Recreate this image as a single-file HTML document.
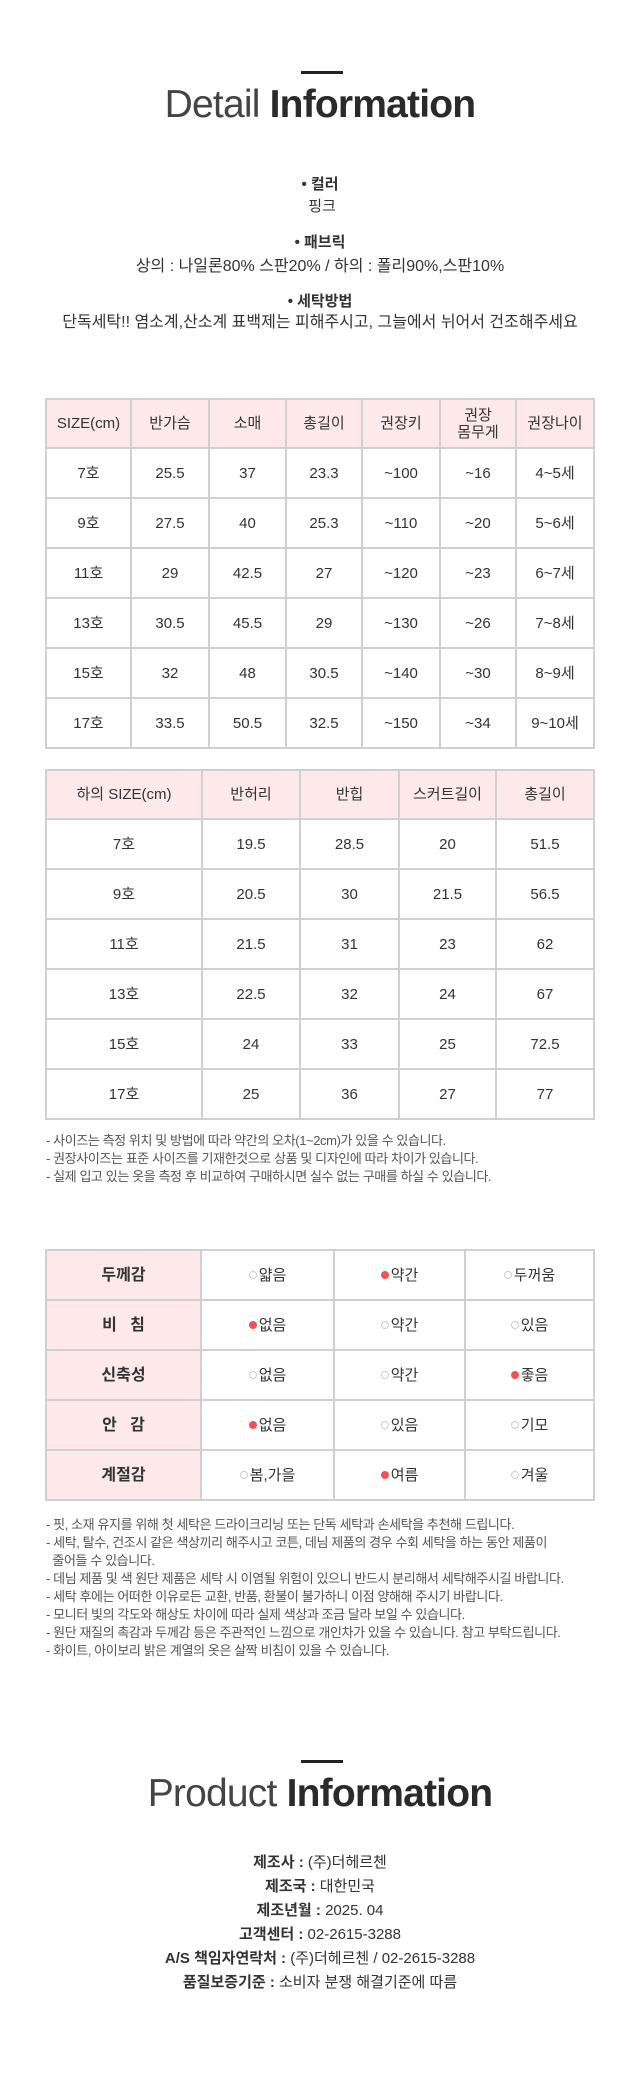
<!DOCTYPE html>
<html><head><meta charset="utf-8">
<style>
*{margin:0;padding:0;box-sizing:border-box}
body{width:640px;height:2100px;background:#fff;position:relative;font-family:"Liberation Sans","Noto Sans CJK KR",sans-serif;color:#333;overflow:hidden}
.bar{position:absolute;left:301px;width:42px;height:3px;background:#222}
.title{position:absolute;left:0;width:640px;text-align:center;font-size:39px;letter-spacing:-0.8px;color:#333;line-height:40px}
.title .l{font-weight:300;color:#444}
.title b{font-weight:700;color:#2a2a2a}
.c{position:absolute;left:0;width:640px;text-align:center;font-size:15px;line-height:20px;color:#333}
.c.w{font-size:16px}
.c b{font-weight:700}
table{position:absolute;left:45px;width:548px;border-collapse:collapse;table-layout:fixed}
td{border:2px solid #d0d0d0;text-align:center;font-size:15px;color:#333;height:50px;line-height:17px}
tr.h td{background:#fde9e9;height:49px}
td.p{background:#fde9e9;font-weight:700;font-size:16px}
.note{position:absolute;left:46px;font-size:13px;color:#555;line-height:18px;letter-spacing:-0.4px}
.dot{display:inline-block;width:8px;height:8px;border-radius:50%;background:#f35252;margin-right:2px;vertical-align:1px}
.o{display:inline-block;width:8px;height:8px;border-radius:50%;border:1px solid #ccc;margin-right:2px;vertical-align:1px}
</style></head><body>
<div class="bar" style="top:71px"></div>
<div class="title" style="top:85px"><span class="l">Detail</span> <b>Information</b></div>

<div class="c" style="top:175px"><b>• 컬러</b></div>
<div class="c" style="top:197px">&nbsp;핑크</div>
<div class="c" style="top:233px"><b>• 패브릭</b></div>
<div class="c w" style="top:257px">상의 : 나일론80% 스판20% / 하의 : 폴리90%,스판10%</div>
<div class="c" style="top:292px"><b>• 세탁방법</b></div>
<div class="c w" style="top:313px">단독세탁!! 염소계,산소계 표백제는 피해주시고, 그늘에서 뉘어서 건조해주세요</div>

<table style="top:398px">
<colgroup><col style="width:85px"><col style="width:78px"><col style="width:77px"><col style="width:76px"><col style="width:78px"><col style="width:76px"><col style="width:78px"></colgroup>
<tr class="h"><td>SIZE(cm)</td><td>반가슴</td><td>소매</td><td>총길이</td><td>권장키</td><td>권장<br>몸무게</td><td>권장나이</td></tr>
<tr><td>7호</td><td>25.5</td><td>37</td><td>23.3</td><td>~100</td><td>~16</td><td>4~5세</td></tr>
<tr><td>9호</td><td>27.5</td><td>40</td><td>25.3</td><td>~110</td><td>~20</td><td>5~6세</td></tr>
<tr><td>11호</td><td>29</td><td>42.5</td><td>27</td><td>~120</td><td>~23</td><td>6~7세</td></tr>
<tr><td>13호</td><td>30.5</td><td>45.5</td><td>29</td><td>~130</td><td>~26</td><td>7~8세</td></tr>
<tr><td>15호</td><td>32</td><td>48</td><td>30.5</td><td>~140</td><td>~30</td><td>8~9세</td></tr>
<tr><td>17호</td><td>33.5</td><td>50.5</td><td>32.5</td><td>~150</td><td>~34</td><td>9~10세</td></tr>
</table>

<table style="top:769px">
<colgroup><col style="width:156px"><col style="width:98px"><col style="width:99px"><col style="width:97px"><col style="width:98px"></colgroup>
<tr class="h"><td>하의 SIZE(cm)</td><td>반허리</td><td>반힙</td><td>스커트길이</td><td>총길이</td></tr>
<tr><td>7호</td><td>19.5</td><td>28.5</td><td>20</td><td>51.5</td></tr>
<tr><td>9호</td><td>20.5</td><td>30</td><td>21.5</td><td>56.5</td></tr>
<tr><td>11호</td><td>21.5</td><td>31</td><td>23</td><td>62</td></tr>
<tr><td>13호</td><td>22.5</td><td>32</td><td>24</td><td>67</td></tr>
<tr><td>15호</td><td>24</td><td>33</td><td>25</td><td>72.5</td></tr>
<tr><td>17호</td><td>25</td><td>36</td><td>27</td><td>77</td></tr>
</table>

<div class="note" style="top:1132px">- 사이즈는 측정 위치 및 방법에 따라 약간의 오차(1~2cm)가 있을 수 있습니다.<br>- 권장사이즈는 표준 사이즈를 기재한것으로 상품 및 디자인에 따라 차이가 있습니다.<br>- 실제 입고 있는 옷을 측정 후 비교하여 구매하시면 실수 없는 구매를 하실 수 있습니다.</div>

<table style="top:1249px">
<colgroup><col style="width:155px"><col style="width:133px"><col style="width:131px"><col style="width:129px"></colgroup>
<tr><td class="p">두께감</td><td><span class="o"></span>얇음</td><td><span class="dot"></span>약간</td><td><span class="o"></span>두꺼움</td></tr>
<tr><td class="p">비&nbsp;&nbsp;&nbsp;침</td><td><span class="dot"></span>없음</td><td><span class="o"></span>약간</td><td><span class="o"></span>있음</td></tr>
<tr><td class="p">신축성</td><td><span class="o"></span>없음</td><td><span class="o"></span>약간</td><td><span class="dot"></span>좋음</td></tr>
<tr><td class="p">안&nbsp;&nbsp;&nbsp;감</td><td><span class="dot"></span>없음</td><td><span class="o"></span>있음</td><td><span class="o"></span>기모</td></tr>
<tr><td class="p">계절감</td><td><span class="o"></span>봄,가을</td><td><span class="dot"></span>여름</td><td><span class="o"></span>겨울</td></tr>
</table>

<div class="note" style="top:1516px">- 핏, 소재 유지를 위해 첫 세탁은 드라이크리닝 또는 단독 세탁과 손세탁을 추천해 드립니다.<br>- 세탁, 탈수, 건조시 같은 색상끼리 해주시고 코튼, 데님 제품의 경우 수회 세탁을 하는 동안 제품이<br>&nbsp;&nbsp;줄어들 수 있습니다.<br>- 데님 제품 및 색 원단 제품은 세탁 시 이염될 위험이 있으니 반드시 분리해서 세탁해주시길 바랍니다.<br>- 세탁 후에는 어떠한 이유로든 교환, 반품, 환불이 불가하니 이점 양해해 주시기 바랍니다.<br>- 모니터 빛의 각도와 해상도 차이에 따라 실제 색상과 조금 달라 보일 수 있습니다.<br>- 원단 재질의 촉감과 두께감 등은 주관적인 느낌으로 개인차가 있을 수 있습니다. 참고 부탁드립니다.<br>- 화이트, 아이보리 밝은 계열의 옷은 살짝 비침이 있을 수 있습니다.</div>

<div class="bar" style="top:1760px"></div>
<div class="title" style="top:1774px"><span class="l">Product</span> <b>Information</b></div>

<div class="c" style="top:1853px"><b>제조사 :</b> (주)더헤르첸</div>
<div class="c" style="top:1877px"><b>제조국 :</b> 대한민국</div>
<div class="c" style="top:1901px"><b>제조년월 :</b> 2025. 04</div>
<div class="c" style="top:1925px"><b>고객센터 :</b> 02-2615-3288</div>
<div class="c" style="top:1949px"><b>A/S 책임자연락처 :</b> (주)더헤르첸 / 02-2615-3288</div>
<div class="c" style="top:1973px"><b>품질보증기준 :</b> 소비자 분쟁 해결기준에 따름</div>
</body></html>
